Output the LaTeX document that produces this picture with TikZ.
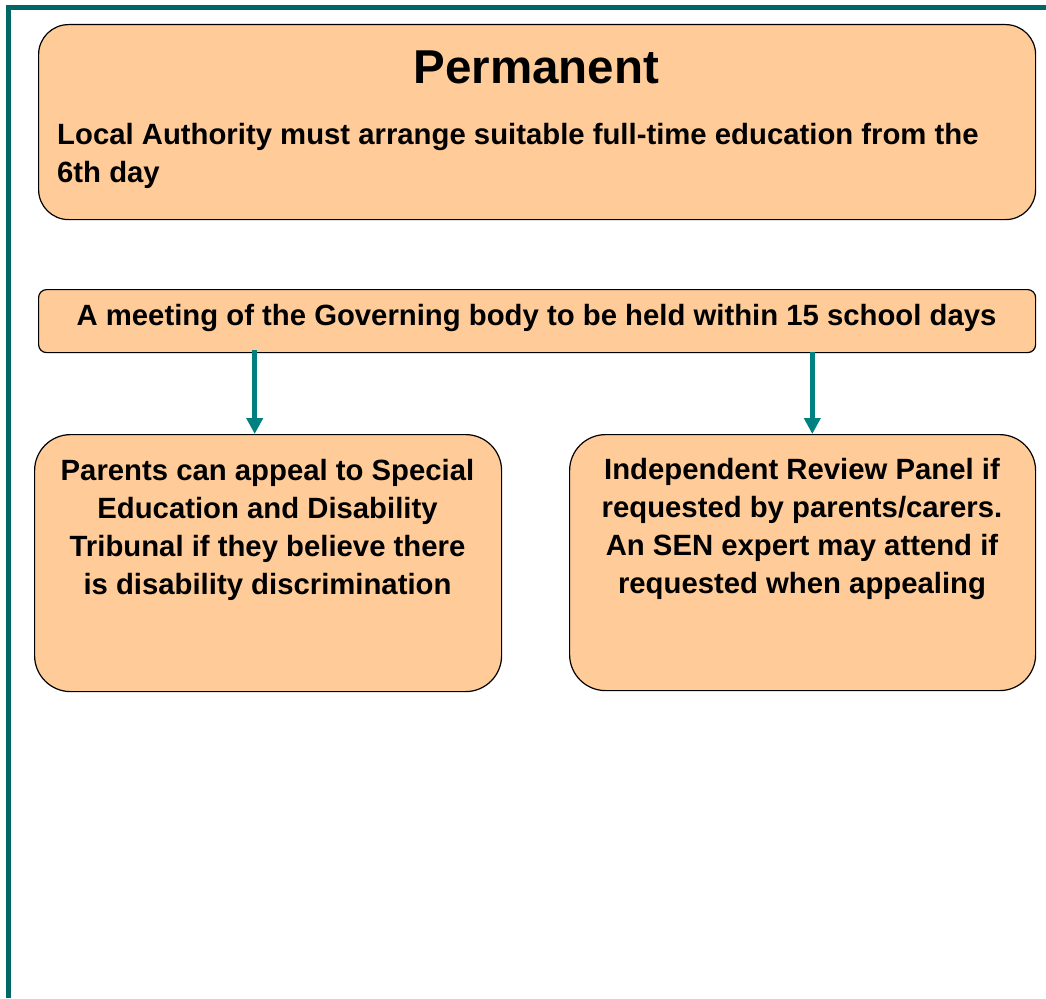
\documentclass[tikz,border=0pt]{standalone}
\usepackage{fontspec}
\setmainfont{Liberation Sans}
\usetikzlibrary{arrows.meta}
\definecolor{peach}{RGB}{255,204,153}
\definecolor{frameteal}{RGB}{0,102,102}
\definecolor{arrowteal}{RGB}{0,128,128}
\begin{document}
\begin{tikzpicture}[x=1pt,y=-1pt,
  panel/.style={draw=black, line width=1.2pt, fill=peach, inner sep=0pt,
    anchor=north west, rounded corners=#1},
  bodytext/.style={font=\bfseries\fontsize{29.3}{37.8}\selectfont, inner sep=0pt},
  flow/.style={draw=arrowteal, line width=4.5pt,
    -{Triangle[width=16pt,length=16pt]}}]
\useasboundingbox (0,0) rectangle (1046,998);
% outer frame: top and left rules
\draw[frameteal, line width=5.5pt] (8.5,998) -- (8.5,7.3) -- (1046,7.3);

% panels
\node[panel=30pt, minimum width=997pt, minimum height=195pt] (top) at (38,24) {};
\node[panel=8pt, minimum width=997pt, minimum height=63pt] (meet) at (38,289) {};
\node[panel=36pt, minimum width=467pt, minimum height=257pt] (appeal) at (34,434) {};
\node[panel=36pt, minimum width=466pt, minimum height=256pt] (review) at (569,434) {};

% texts
\node[font=\bfseries\fontsize{47.5}{56}\selectfont, inner sep=0pt, anchor=base]
  (title) at (536.5,83.3) {Permanent};
\node[bodytext, anchor=north west, align=left] (duty) at (57,123.5)
  {Local Authority must arrange suitable full-time education from the\\6th day};
\node[bodytext, anchor=base] (meettext) at (536.5,325)
  {A meeting of the Governing body to be held within 15 school days};
\node[bodytext, anchor=north, align=center] (appealtext) at (267.5,459.5)
  {Parents can appeal to Special\\Education and Disability\\Tribunal if they believe there\\is disability discrimination};
\node[bodytext, anchor=north, align=center] (reviewtext) at (802,458.5)
  {Independent Review Panel if\\requested by parents/carers.\\An SEN expert may attend if\\requested when appealing};

% connectors
\coordinate (fromleft) at (254.7,350);
\coordinate (fromright) at (812.3,352);
\draw[flow] (fromleft) -- (fromleft |- appeal.north);
\draw[flow] (fromright) -- (fromright |- review.north);
\end{tikzpicture}
\end{document}
